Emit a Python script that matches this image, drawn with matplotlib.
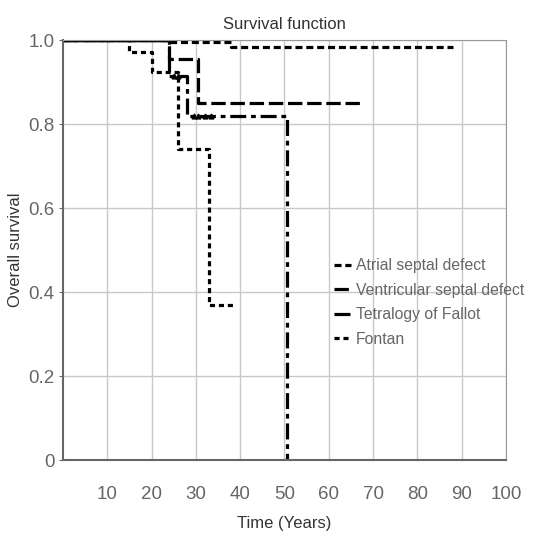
import matplotlib
matplotlib.use('Agg')
import matplotlib.pyplot as plt

# Kaplan-Meier step data (years, survival)
asd_time = [0, 24.5, 38, 88]
asd_surv = [1.0, 0.995, 0.983, 0.983]

vsd_time = [0, 24, 30.5, 67]
vsd_surv = [1.0, 0.955, 0.85, 0.85]

tof_time = [0, 24, 28, 50.5]
tof_surv = [1.0, 0.914, 0.82, 0.0]

fontan_time = [0, 15, 20, 26, 33, 39]
fontan_surv = [1.0, 0.972, 0.925, 0.74, 0.37, 0.37]

# censored observations
censor_top_time = [13, 14, 15, 16, 17, 18, 19, 20, 21, 22, 23]
censor_tof_time = [25, 26, 29.5, 30.5, 32, 33.5]
censor_tof_surv = [0.914, 0.914, 0.82, 0.82, 0.82, 0.82]

xticks = [10, 20, 30, 40, 50, 60, 70, 80, 90, 100]
yticks = [0, 0.2, 0.4, 0.6, 0.8, 1.0]
ytick_labels = ['0', '0.2', '0.4', '0.6', '0.8', '1.0']

plt.rcParams['font.family'] = ['Liberation Sans', 'DejaVu Sans']

fig = plt.figure(figsize=(5.47, 5.49), dpi=100)
ax = fig.add_axes([0.115, 0.162, 0.81, 0.765])

grey = '#666666'
dark = '#333333'
lw = 2.3
ax.step(asd_time, asd_surv, where='post', color='black', lw=lw,
        linestyle=(0, (2.2, 1.2)), label='Atrial septal defect')
ax.step(vsd_time, vsd_surv, where='post', color='black', lw=lw,
        linestyle=(0, (4.5, 1.5)), label='Ventricular septal defect')
ax.step(tof_time, tof_surv, where='post', color='black', lw=lw,
        linestyle=(0, (5, 1.5, 1.5, 1.5)), label='Tetralogy of Fallot')
ax.step(fontan_time, fontan_surv, where='post', color='black', lw=lw,
        linestyle=(0, (1.6, 1.2)), label='Fontan')

ax.plot([0, 24], [1.0, 1.0], color='black', lw=2.5)
ax.plot(censor_top_time, [1.003] * len(censor_top_time), linestyle='none',
        marker='|', color='black', markersize=4, markeredgewidth=1.5)
ax.plot(censor_tof_time, censor_tof_surv, linestyle='none',
        marker='^', color='black', markersize=3.5)

ax.set_xlim(0, 100)
ax.set_ylim(0, 1.0)
ax.set_xticks(xticks)
ax.set_yticks(yticks)
ax.set_yticklabels(ytick_labels)
ax.grid(True, color='#c8c8c8', linewidth=1)
ax.set_axisbelow(True)
ax.tick_params(axis='x', length=0, pad=19, labelsize=13.5, colors=grey)
ax.tick_params(axis='y', length=3, pad=3, labelsize=13.5, colors=grey)
for s in ['left', 'bottom']:
    ax.spines[s].set_color('#666666')
    ax.spines[s].set_linewidth(1.5)
for s in ['top', 'right']:
    ax.spines[s].set_color('#999999')

ax.set_title('Survival function', fontsize=12, color=dark, pad=8)
ax.set_xlabel('Time (Years)', fontsize=12, color=dark, labelpad=9)
ax.set_ylabel('Overall survival', fontsize=12, color=dark, labelpad=4)

leg = ax.legend(loc='upper left', bbox_to_anchor=(0.598, 0.495), frameon=False,
                handlelength=1.1, handletextpad=0.3, labelspacing=0.6,
                fontsize=11.3, borderaxespad=0)
for t in leg.get_texts():
    t.set_color(grey)

fig.savefig('out.png', dpi=100)
